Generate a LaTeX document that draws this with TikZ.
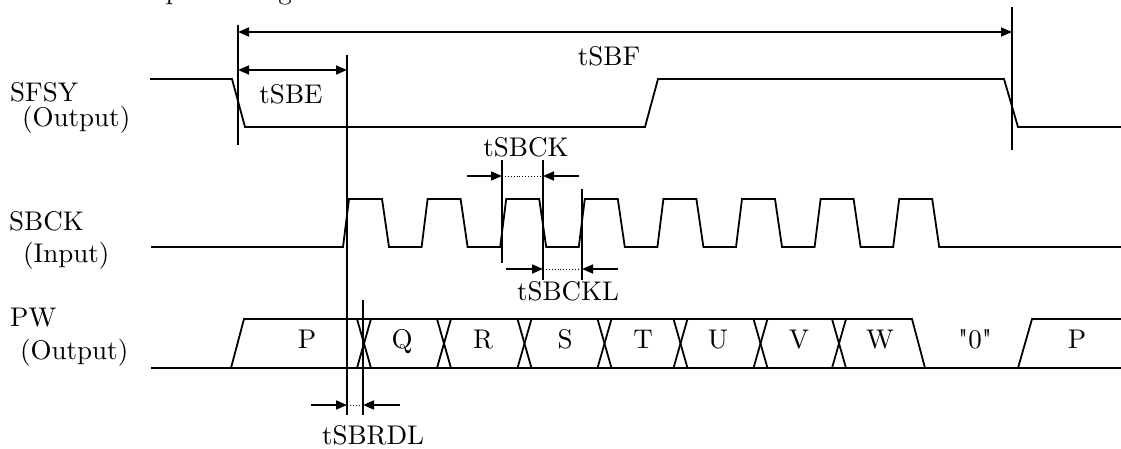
\documentclass[tikz,border=0pt]{standalone}
\usepackage{fontspec}
\setmainfont{lmroman10-regular.otf}[Ligatures=TeX]
\newfontfamily\lmplain{lmroman10-regular.otf}
\usetikzlibrary{arrows.meta}
\begin{document}
\begin{tikzpicture}[x=1pt,y=-1pt,
  sig/.style={line width=1.8pt,line join=miter},
  vline/.style={line width=1.6pt},
  dimarrow/.style={line width=1.6pt,-{Triangle[length=11pt,width=9pt]}},
  dimboth/.style={line width=1.6pt,{Triangle[length=11pt,width=9pt]}-{Triangle[length=11pt,width=9pt]}},
  dots/.style={line width=0.9pt,dotted},
  lbl/.style={font=\fontsize{27}{31}\selectfont,inner sep=0pt},
]
\useasboundingbox (0,0) rectangle (1121,449);

% heading, cut off at the top edge as in the reference
\node[lbl,anchor=base west] (head) at (119,0) {Output timing};

% signal names
\node[lbl,anchor=base west] (sfsy) at (10,102) {SFSY};
\node[lbl,anchor=base west] (sfsyo) at (22,127) {(Output)};
\node[lbl,anchor=base west] (sbck) at (9,230) {SBCK};
\node[lbl,anchor=base west] (sbcki) at (23,262) {(Input)};
\node[lbl,anchor=base west] (pw) at (10,326) {PW};
\node[lbl,anchor=base west] (pwo) at (20,359) {(Output)};

% SFSY waveform
\draw[sig] (150,79) -- (232,79) -- (245,127) -- (645,127) -- (658,79)
  -- (1004,79) -- (1018,127) -- (1121,127);

% SBCK waveform
\draw[sig] (151,247) \foreach \k in {0,...,7}{
  -- ({343+78.6*\k},247) -- ({349+78.6*\k},199)
  -- ({382+78.6*\k},199) -- ({389+78.6*\k},247)} -- (1121,247);

% PW bus
\draw[sig] (151,368) -- (1121,368);
\draw[sig] (231,368) -- (244,319) -- (912,319) -- (925,368);
\draw[sig] (1018,368) -- (1032,319) -- (1121,319);
\foreach \c in {364,444,524.5,604.5,680.5,760.5,839}{
  \draw[sig] (\c-7,319) -- (\c+7,368);
  \draw[sig] (\c-7,368) -- (\c+7,319);
}
\foreach \t/\x [count=\i] in {P/307,Q/402,R/483,S/565,T/643,U/718,V/799,W/880,{\lmplain "0"}/975,P/1077}
  \node[lbl,anchor=base] (bus\i) at (\x,348) {\t};

% reference lines
\coordinate (a1) at (238,25);   \coordinate (a2) at (238,145);
\coordinate (b1) at (1012,7);   \coordinate (b2) at (1012,150);
\coordinate (c1) at (347,55);   \coordinate (c2) at (347,415);
\coordinate (d1) at (363,300);  \coordinate (d2) at (363,415);
\coordinate (e1) at (502,160);  \coordinate (e2) at (502,263);
\coordinate (f1) at (543,160);  \coordinate (f2) at (543,280);
\coordinate (g1) at (582,189);  \coordinate (g2) at (582,280);
\draw[vline] (a1) -- (a2);
\draw[vline] (b1) -- (b2);
\draw[vline] (c1) -- (c2);
\draw[vline] (d1) -- (d2);
\draw[vline] (e1) -- (e2);
\draw[vline] (f1) -- (f2);
\draw[vline] (g1) -- (g2);

% tSBF
\coordinate (sbfL) at (238,32); \coordinate (sbfR) at (1012,32);
\draw[dimboth] (sbfL) -- (sbfR);
\node[lbl,anchor=base] (tsbf) at (609,66) {tSBF};

% tSBE
\coordinate (sbeL) at (238,70); \coordinate (sbeR) at (347,70);
\draw[dimboth] (sbeL) -- (sbeR);
\node[lbl,anchor=base] (tsbe) at (291,104) {tSBE};

% tSBCK
\coordinate (ck0) at (467,176); \coordinate (ck1) at (502,176);
\coordinate (ck2) at (543,176); \coordinate (ck3) at (579,176);
\draw[dimarrow] (ck0) -- (ck1);
\draw[dimarrow] (ck3) -- (ck2);
\draw[dots] (ck1) -- (ck2);
\node[lbl,anchor=base] (tsbck) at (526,157) {tSBCK};

% tSBCKL
\coordinate (kl0) at (506,269); \coordinate (kl1) at (543,269);
\coordinate (kl2) at (582,269); \coordinate (kl3) at (618,269);
\draw[dimarrow] (kl0) -- (kl1);
\draw[dimarrow] (kl3) -- (kl2);
\draw[dots] (kl1) -- (kl2);
\node[lbl,anchor=base] (tsbckl) at (568,300) {tSBCKL};

% tSBRDL
\coordinate (rd0) at (311,405); \coordinate (rd1) at (347,405);
\coordinate (rd2) at (363,405); \coordinate (rd3) at (400,405);
\draw[dimarrow] (rd0) -- (rd1);
\draw[dimarrow] (rd3) -- (rd2);
\draw[dots] (rd1) -- (rd2);
\node[lbl,anchor=base] (tsbrdl) at (373,444) {tSBRDL};
\end{tikzpicture}
\end{document}
